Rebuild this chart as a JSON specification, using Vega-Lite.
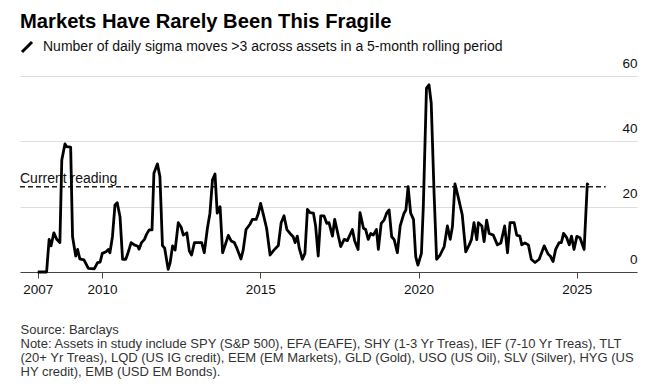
{
  "$schema": "https://vega.github.io/schema/vega-lite/v6.json",
  "width": 617,
  "height": 196,
  "autosize": "none",
  "padding": {"left": 20, "top": 76, "right": 31, "bottom": 116},
  "background": "white",
  "title": {
    "text": "Markets Have Rarely Been This Fragile",
    "anchor": "start",
    "frame": "group",
    "baseline": "alphabetic",
    "offset": -8,
    "font": "Liberation Sans",
    "fontSize": 20.2,
    "fontWeight": "bold",
    "color": "#000"
  },
  "config": {
    "view": {"stroke": null},
    "font": "Liberation Sans"
  },
  "datasets": {
    "series": [
      {"t": 2007.97, "v": 0}, {"t": 2008.25, "v": 0}, {"t": 2008.33, "v": 10}, {"t": 2008.39, "v": 8},
      {"t": 2008.48, "v": 12}, {"t": 2008.57, "v": 10}, {"t": 2008.67, "v": 9}, {"t": 2008.73, "v": 34.3},
      {"t": 2008.83, "v": 39.2}, {"t": 2008.88, "v": 38.4}, {"t": 2009.01, "v": 38.2}, {"t": 2009.07, "v": 10.8},
      {"t": 2009.17, "v": 4.9}, {"t": 2009.23, "v": 6.9}, {"t": 2009.3, "v": 4}, {"t": 2009.43, "v": 3.7},
      {"t": 2009.57, "v": 1.1}, {"t": 2009.76, "v": 1}, {"t": 2009.86, "v": 2.9}, {"t": 2009.94, "v": 3},
      {"t": 2010.01, "v": 5.7}, {"t": 2010.13, "v": 6.2}, {"t": 2010.2, "v": 6.9}, {"t": 2010.25, "v": 5.9},
      {"t": 2010.33, "v": 10.8}, {"t": 2010.41, "v": 20.5}, {"t": 2010.48, "v": 21.2}, {"t": 2010.57, "v": 16.9},
      {"t": 2010.65, "v": 3.9}, {"t": 2010.75, "v": 3.9}, {"t": 2010.81, "v": 5.5}, {"t": 2010.92, "v": 9},
      {"t": 2011.02, "v": 8.3}, {"t": 2011.13, "v": 7.9}, {"t": 2011.17, "v": 7}, {"t": 2011.25, "v": 9},
      {"t": 2011.34, "v": 10}, {"t": 2011.41, "v": 11.6}, {"t": 2011.49, "v": 12.9}, {"t": 2011.58, "v": 12.9},
      {"t": 2011.64, "v": 30.2}, {"t": 2011.75, "v": 33.1}, {"t": 2011.83, "v": 29.2}, {"t": 2011.91, "v": 8.1},
      {"t": 2011.98, "v": 7.3}, {"t": 2012.09, "v": 0.8}, {"t": 2012.15, "v": 2.7}, {"t": 2012.23, "v": 8},
      {"t": 2012.31, "v": 6.7}, {"t": 2012.41, "v": 15.1}, {"t": 2012.5, "v": 13.7}, {"t": 2012.57, "v": 11.3},
      {"t": 2012.68, "v": 12}, {"t": 2012.76, "v": 6.4}, {"t": 2012.83, "v": 5.2}, {"t": 2012.92, "v": 9},
      {"t": 2013.15, "v": 9}, {"t": 2013.23, "v": 5.9}, {"t": 2013.33, "v": 13.4}, {"t": 2013.41, "v": 18},
      {"t": 2013.49, "v": 28.2}, {"t": 2013.57, "v": 30}, {"t": 2013.64, "v": 18}, {"t": 2013.73, "v": 20},
      {"t": 2013.81, "v": 5.9}, {"t": 2013.91, "v": 8.8}, {"t": 2013.99, "v": 11.2}, {"t": 2014.08, "v": 9.5},
      {"t": 2014.18, "v": 9}, {"t": 2014.26, "v": 7.3}, {"t": 2014.39, "v": 4}, {"t": 2014.46, "v": 6.7},
      {"t": 2014.55, "v": 13}, {"t": 2014.68, "v": 14.7}, {"t": 2014.75, "v": 16.1}, {"t": 2014.87, "v": 16.1},
      {"t": 2014.94, "v": 18}, {"t": 2015.01, "v": 21}, {"t": 2015.1, "v": 17.5}, {"t": 2015.2, "v": 13.4},
      {"t": 2015.31, "v": 5.2}, {"t": 2015.43, "v": 6.7}, {"t": 2015.57, "v": 8.1}, {"t": 2015.66, "v": 15.1},
      {"t": 2015.75, "v": 17.2}, {"t": 2015.84, "v": 13}, {"t": 2015.94, "v": 11.8}, {"t": 2016.04, "v": 10.8},
      {"t": 2016.1, "v": 9}, {"t": 2016.17, "v": 11}, {"t": 2016.23, "v": 7.3}, {"t": 2016.33, "v": 3.9},
      {"t": 2016.41, "v": 5.7}, {"t": 2016.49, "v": 19.2}, {"t": 2016.57, "v": 18.2}, {"t": 2016.68, "v": 18},
      {"t": 2016.75, "v": 13.9}, {"t": 2016.83, "v": 4.9}, {"t": 2016.91, "v": 17.2}, {"t": 2017.01, "v": 17.2},
      {"t": 2017.1, "v": 14.9}, {"t": 2017.17, "v": 15.1}, {"t": 2017.28, "v": 11}, {"t": 2017.35, "v": 16.1},
      {"t": 2017.54, "v": 7.8}, {"t": 2017.65, "v": 10}, {"t": 2017.75, "v": 9.6}, {"t": 2017.91, "v": 13},
      {"t": 2017.98, "v": 9.6}, {"t": 2018.09, "v": 6.9}, {"t": 2018.15, "v": 18.2}, {"t": 2018.26, "v": 13.4},
      {"t": 2018.33, "v": 13}, {"t": 2018.41, "v": 10}, {"t": 2018.49, "v": 11.8}, {"t": 2018.57, "v": 11.3},
      {"t": 2018.67, "v": 13}, {"t": 2018.73, "v": 6.9}, {"t": 2018.82, "v": 14.9}, {"t": 2018.91, "v": 15.9},
      {"t": 2019.0, "v": 18.2}, {"t": 2019.07, "v": 19}, {"t": 2019.15, "v": 10.8}, {"t": 2019.23, "v": 9.9},
      {"t": 2019.33, "v": 5.9}, {"t": 2019.42, "v": 14.1}, {"t": 2019.54, "v": 18}, {"t": 2019.6, "v": 19},
      {"t": 2019.67, "v": 26.1}, {"t": 2019.75, "v": 18}, {"t": 2019.84, "v": 16.1}, {"t": 2019.91, "v": 4.7},
      {"t": 2019.98, "v": 2.1}, {"t": 2020.09, "v": 5.7}, {"t": 2020.15, "v": 20}, {"t": 2020.25, "v": 56.3},
      {"t": 2020.33, "v": 57.3}, {"t": 2020.4, "v": 51.7}, {"t": 2020.49, "v": 24.1}, {"t": 2020.57, "v": 3.9},
      {"t": 2020.68, "v": 5.2}, {"t": 2020.81, "v": 7.8}, {"t": 2020.91, "v": 14.1}, {"t": 2021.0, "v": 10},
      {"t": 2021.07, "v": 13.9}, {"t": 2021.15, "v": 27}, {"t": 2021.26, "v": 22.6}, {"t": 2021.38, "v": 17.5},
      {"t": 2021.49, "v": 6.2}, {"t": 2021.6, "v": 8.3}, {"t": 2021.67, "v": 9.9}, {"t": 2021.75, "v": 15.1},
      {"t": 2021.84, "v": 9.9}, {"t": 2021.89, "v": 15.1}, {"t": 2022.0, "v": 14.1}, {"t": 2022.07, "v": 9.3},
      {"t": 2022.15, "v": 15.9}, {"t": 2022.23, "v": 11.8}, {"t": 2022.36, "v": 11.3}, {"t": 2022.49, "v": 8.3},
      {"t": 2022.6, "v": 8.9}, {"t": 2022.72, "v": 14.1}, {"t": 2022.81, "v": 5.9}, {"t": 2022.89, "v": 15.1},
      {"t": 2023.02, "v": 15.1}, {"t": 2023.1, "v": 11.3}, {"t": 2023.2, "v": 11}, {"t": 2023.26, "v": 8.3},
      {"t": 2023.36, "v": 8.9}, {"t": 2023.47, "v": 8.3}, {"t": 2023.56, "v": 3.9}, {"t": 2023.68, "v": 2.9},
      {"t": 2023.81, "v": 3.9}, {"t": 2023.97, "v": 8}, {"t": 2024.09, "v": 5.5}, {"t": 2024.16, "v": 4.9},
      {"t": 2024.25, "v": 3.2}, {"t": 2024.33, "v": 6.9}, {"t": 2024.44, "v": 9}, {"t": 2024.51, "v": 9},
      {"t": 2024.58, "v": 11.8}, {"t": 2024.68, "v": 10.5}, {"t": 2024.76, "v": 8.3}, {"t": 2024.83, "v": 11},
      {"t": 2024.91, "v": 6.9}, {"t": 2025.0, "v": 10.9}, {"t": 2025.1, "v": 10.5}, {"t": 2025.23, "v": 6.9},
      {"t": 2025.33, "v": 27}, {"t": 2025.36, "v": 26.5}
    ],
    "reading": [
      {"label": "Current reading", "value": 26.1, "start": 2007.41, "end": 2025.91}
    ]
  },
  "layer": [
    {
      "data": {"name": "reading"},
      "mark": {"type": "rule", "strokeDash": [5, 3], "strokeWidth": 1.5, "color": "#222"},
      "encoding": {
        "x": {"field": "start", "type": "quantitative"},
        "x2": {"field": "end"},
        "y": {"field": "value", "type": "quantitative"}
      }
    },
    {
      "data": {"name": "reading"},
      "mark": {"type": "text", "align": "left", "baseline": "alphabetic", "dy": -4, "fontSize": 14, "color": "#111", "font": "Liberation Sans"},
      "encoding": {
        "x": {"field": "start", "type": "quantitative"},
        "y": {"field": "value", "type": "quantitative"},
        "text": {"field": "label"}
      }
    },
    {
      "data": {"name": "series"},
      "mark": {"type": "line", "strokeWidth": 2.8, "strokeJoin": "round", "strokeCap": "butt"},
      "encoding": {
        "x": {
          "field": "t",
          "type": "quantitative",
          "scale": {"domain": [2007.41, 2026.9], "nice": false, "zero": false},
          "axis": {
            "values": [2007.97, 2010, 2015, 2020, 2025],
            "labelExpr": "datum.value < 2008 ? '2007' : format(datum.value, 'd')",
            "grid": false,
            "domainColor": "#444",
            "domainWidth": 1,
            "tickColor": "#444",
            "tickSize": 6,
            "labelFontSize": 13.5,
            "labelColor": "#111",
            "labelPadding": 4,
            "labelFont": "Liberation Sans",
            "title": ["Source: Barclays", "Note: Assets in study include SPY (S&P 500), EFA (EAFE), SHY (1-3 Yr Treas), IEF (7-10 Yr Treas), TLT", "(20+ Yr Treas), LQD (US IG credit), EEM (EM Markets), GLD (Gold), USO (US Oil), SLV (Silver), HYG (US", "HY credit), EMB (USD EM Bonds)."],
            "titleFont": "Liberation Sans",
            "titleFontSize": 13,
            "titleFontWeight": "normal",
            "titleColor": "#333",
            "titleAnchor": "start",
            "titleAlign": "left",
            "titleBaseline": "alphabetic",
            "titleLineHeight": 14,
            "titleX": 0,
            "titleY": 61
          }
        },
        "y": {
          "field": "v",
          "type": "quantitative",
          "scale": {"domain": [0, 60], "nice": false},
          "axis": {
            "orient": "right",
            "values": [0, 20, 40, 60],
            "domain": false,
            "ticks": false,
            "grid": true,
            "gridColor": "#dddddd",
            "gridWidth": 1,
            "labelAlign": "right",
            "labelBaseline": "alphabetic",
            "labelOffset": -9,
            "labelPadding": 0,
            "labelFontSize": 13.5,
            "labelColor": "#111",
            "labelFont": "Liberation Sans",
            "title": null
          }
        },
        "stroke": {
          "datum": "Number of daily sigma moves >3 across assets in a 5-month rolling period",
          "type": "nominal",
          "scale": {"range": ["#000000"]},
          "legend": {
            "orient": "none",
            "legendX": 0,
            "legendY": -36,
            "title": null,
            "padding": 0,
            "labelFontSize": 14,
            "labelFont": "Liberation Sans",
            "labelColor": "#111",
            "labelLimit": 0,
            "labelOffset": 9,
            "symbolType": "M-1,1L1,-1",
            "symbolSize": 100,
            "symbolStrokeWidth": 3,
            "symbolStrokeColor": "#000"
          }
        }
      }
    }
  ]
}
